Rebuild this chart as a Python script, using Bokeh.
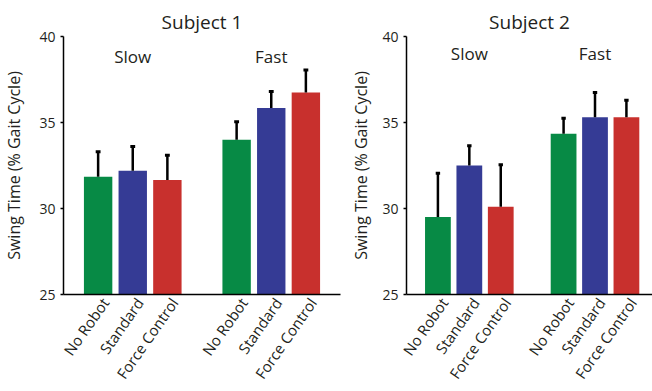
from bokeh.plotting import figure
from bokeh.layouts import row
from bokeh.models import FixedTicker, ColumnDataSource
from bokeh.core.properties import value
from bokeh.embed import file_html
from bokeh.resources import INLINE

conditions = ["No Robot", "Standard", "Force Control"]
speeds = ["Slow", "Fast"]
positions = [1, 2, 3, 5, 6, 7]
speed_pos = [2, 6]
colors = ["#078a45", "#353b95", "#c8302d"] * 2

s1_mean = [31.85, 32.2, 31.65, 34.0, 35.85, 36.75]
s1_err = [1.45, 1.4, 1.45, 1.05, 0.95, 1.3]
s2_mean = [29.5, 32.5, 30.1, 34.35, 35.3, 35.3]
s2_err = [2.55, 1.15, 2.45, 0.9, 1.45, 1.0]

y_ticks = [25, 30, 35, 40]
FONT = "Open Sans"
TXT = "#231f20"


def make(title, means, errs, width, left, right, x_end, label_y, ylab_standoff):
    p = figure(width=width, height=391, x_range=(0, x_end), y_range=(25, 40),
               output_backend="svg", toolbar_location=None, title=title,
               min_border_left=left, min_border_right=right,
               min_border_top=36, min_border_bottom=95)
    p.title.align = "center"
    p.title.text_font = FONT
    p.title.text_font_size = "19px"
    p.title.text_font_style = "normal"
    p.title.text_color = TXT
    p.title.standoff = 3
    p.outline_line_color = None
    p.grid.visible = False
    p.background_fill_color = "white"
    p.border_fill_color = "white"

    tops = [m + e for m, e in zip(means, errs)]
    src = ColumnDataSource(dict(x=positions, top=means, err=tops, color=colors,
                                x0=[x - 0.07 for x in positions],
                                x1=[x + 0.07 for x in positions]))
    p.vbar(x="x", top="top", bottom=25, width=0.82, color="color", line_color=None, source=src)
    p.segment(x0="x", y0="top", x1="x", y1="err", line_color="black", line_width=2.5, source=src)
    p.segment(x0="x0", y0="err", x1="x1", y1="err", line_color="black", line_width=3, source=src)

    p.text(x=speed_pos, y=[label_y] * 2, text=speeds, text_align="center",
           text_baseline="middle", text_font=value(FONT), text_font_size="17px",
           text_color=TXT)

    ya = p.yaxis[0]
    ya.ticker = FixedTicker(ticks=y_ticks)
    ya.minor_tick_line_color = None
    ya.major_tick_out = 3
    ya.major_tick_in = 0
    ya.axis_line_width = 1.5
    ya.major_tick_line_width = 1.5
    ya.major_label_text_font = FONT
    ya.major_label_text_font_size = "14px"
    ya.major_label_text_color = TXT
    ya.axis_label = "Swing Time (% Gait Cycle)"
    ya.axis_label_text_font = FONT
    ya.axis_label_text_font_size = "16px"
    ya.axis_label_text_font_style = "normal"
    ya.axis_label_text_color = TXT
    ya.axis_label_standoff = ylab_standoff

    # tick labels sit slightly right of each bar centre, as in the reference
    label_ticks = [x + 0.2 for x in positions]
    xa = p.xaxis[0]
    xa.ticker = FixedTicker(ticks=label_ticks)
    xa.major_label_overrides = {t: conditions[i % 3] for i, t in enumerate(label_ticks)}
    xa.major_label_orientation = 0.96
    xa.minor_tick_line_color = None
    xa.major_tick_line_color = None
    xa.major_tick_out = 0
    xa.major_tick_in = 0
    xa.axis_line_width = 1.5
    xa.major_label_standoff = 5
    xa.major_label_text_font = FONT
    xa.major_label_text_font_size = "15px"
    xa.major_label_text_color = TXT
    return p


p1 = make("Subject 1", s1_mean, s1_err, 345, 63, 5, 8, 38.85, 11)
p2 = make("Subject 2", s2_mean, s2_err, 307, 61, 0, 7.83, 39.0, 7)

layout = row(p1, p2)
open("out.html", "w").write(file_html(layout, INLINE))
